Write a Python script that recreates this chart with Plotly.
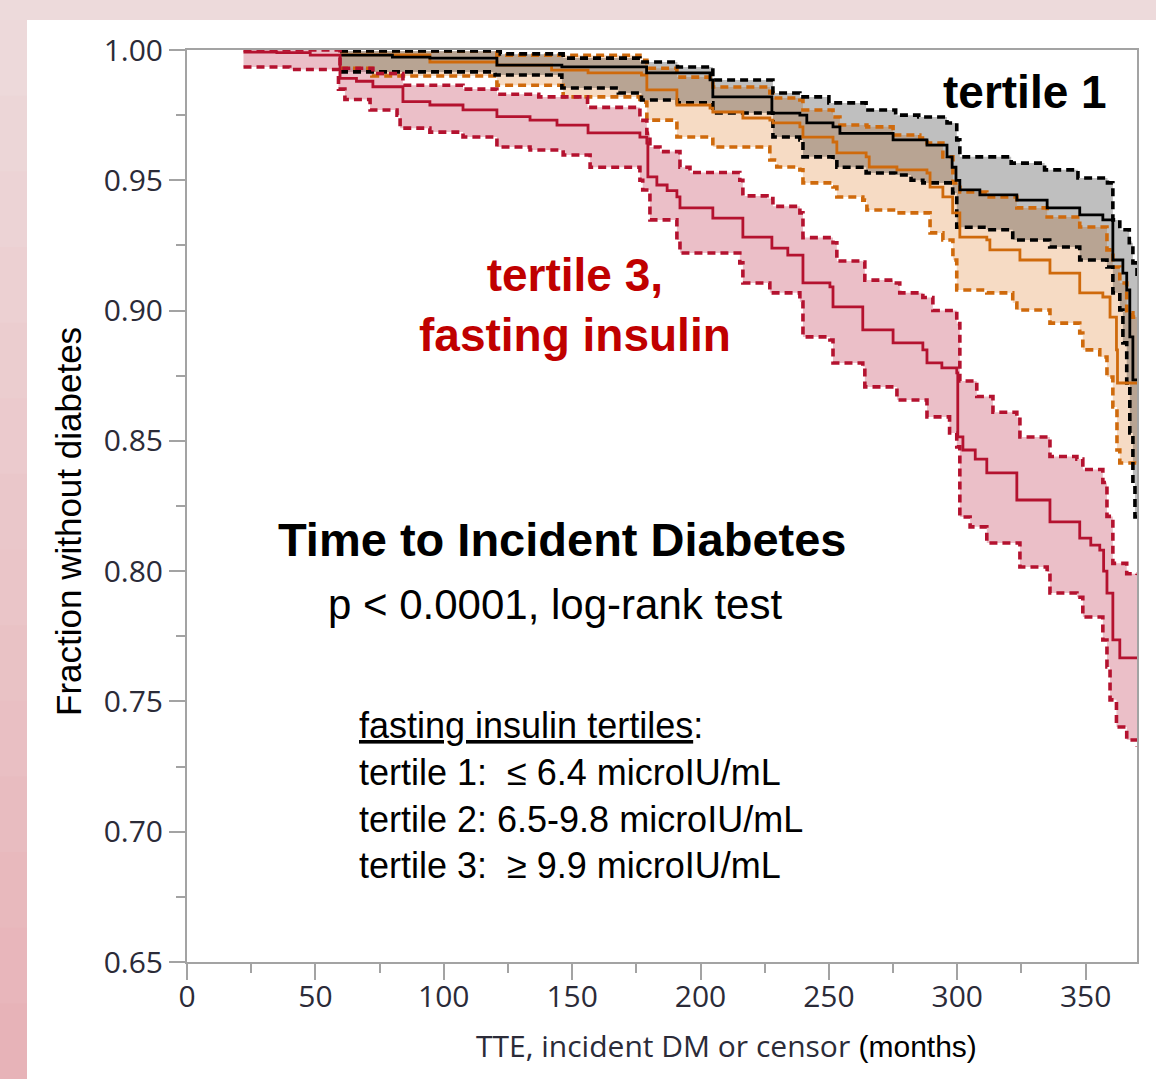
import plotly.graph_objects as go

# ---------------- data ----------------
# tertile 1 (black)
t1_t = [59.6, 80, 94.6, 120.7, 146, 179, 203.7, 204.8, 227.8, 238.7, 241.4, 251.6, 254.3, 275, 288.2, 296, 298, 299.5,
        301, 308.8, 323.2, 335, 347.7, 356.7, 360.6, 364.5, 366, 367.2, 368.4, 370]
t1_s = [0.998, 0.9973, 0.9969, 0.9942, 0.9935, 0.9912, 0.9885, 0.982, 0.9758, 0.975, 0.972, 0.9705, 0.968, 0.9655, 0.9635,
        0.959, 0.955, 0.950, 0.9463, 0.9444, 0.9424, 0.9394, 0.9367, 0.9348, 0.9194, 0.9144, 0.9079, 0.8899, 0.8734, 0.8734]
t1u_t = [59.6, 122, 146.5, 176.4, 191, 204.8, 228.2, 238.7, 250, 264.5, 276, 285, 296, 299.8, 301, 321, 334, 347, 358.5,
         360.6, 363.3, 367, 368.4, 370]
t1u_s = [0.9996, 0.9985, 0.9969, 0.9954, 0.9935, 0.9885, 0.9835, 0.982, 0.9797, 0.977, 0.975, 0.9743, 0.972, 0.9655, 0.959,
         0.9566, 0.954, 0.9509, 0.949, 0.9348, 0.931, 0.926, 0.9183, 0.9129]
t1l_t = [59.6, 120, 146, 168, 177, 191, 204.8, 228.2, 238.7, 239.9, 251.6, 253.1, 264.5, 276, 282, 286.6, 298.2, 299.8,
         311.5, 321.6, 336, 347.7, 358.3, 360.6, 363.3, 364.5, 366, 367.2, 368.4, 369.2, 370]
t1l_s = [0.9916, 0.9904, 0.9854, 0.9835, 0.9808, 0.9797, 0.9758, 0.9666, 0.9655, 0.959, 0.9578, 0.955, 0.9528, 0.952, 0.950,
         0.949, 0.9451, 0.932, 0.931, 0.9271, 0.9244, 0.9194, 0.9167, 0.9068, 0.9002, 0.8876, 0.8722, 0.853, 0.8338,
         0.8208, 0.8208]

# tertile 2 (orange)
t2_t = [59.6, 94.6, 120.7, 142, 156.2, 177, 179.1, 190.8, 203.7, 204.8, 216.5, 227, 228.2, 238.7, 239.9, 251.6, 253.1,
        264.5, 265.7, 276.5, 288.2, 289.4, 294.4, 298.2, 301, 311.5, 312.7, 324.4, 336.1, 347.7, 356.7, 359.5, 362, 362.4,
        370]
t2_s = [0.9981, 0.9954, 0.9942, 0.9923, 0.9912, 0.9904, 0.9847, 0.9789, 0.9777, 0.9762, 0.9739, 0.9731, 0.972, 0.9705,
        0.9666, 0.9647, 0.9605, 0.959, 0.9551, 0.954, 0.9528, 0.9474, 0.9436, 0.9375, 0.9282, 0.9271, 0.9233, 0.9194,
        0.9144, 0.9068, 0.9052, 0.8975, 0.8849, 0.8722, 0.8722]
t2u_t = [59.6, 120.7, 176.4, 179.1, 190.8, 203.7, 204.8, 227, 228.2, 238.7, 239.9, 251.6, 254.3, 264.8, 275, 285.4, 288.2,
         294.4, 298.3, 301, 311.5, 323.2, 335, 347.7, 358.3, 360.6, 363.3, 366, 368.4, 370]
t2u_s = [0.9995, 0.998, 0.996, 0.993, 0.9896, 0.9885, 0.9858, 0.9835, 0.9816, 0.9808, 0.977, 0.9743, 0.9712, 0.9705,
         0.9674, 0.9662, 0.9643, 0.959, 0.949, 0.9455, 0.9436, 0.9394, 0.9359, 0.9321, 0.9233, 0.9167, 0.9106, 0.8991,
         0.8975, 0.8975]
t2l_t = [59.6, 72, 120.7, 146.5, 176.4, 179.1, 190.8, 204.8, 227, 229.7, 238.7, 239.9, 251.6, 253.1, 263.2, 264.8, 276.5,
         289.4, 294.4, 298.3, 299.8, 311.5, 321.6, 323.2, 336.1, 347.7, 348.9, 355.5, 358.3, 360.6, 362.2, 363.3, 370]
t2l_s = [0.993, 0.990, 0.9865, 0.982, 0.980, 0.9731, 0.9666, 0.9628, 0.9578, 0.9551, 0.954, 0.949, 0.9474, 0.9436,
         0.9424, 0.9386, 0.9375, 0.9298, 0.9271, 0.9194, 0.9079, 0.9068, 0.9029, 0.9002, 0.8952, 0.8914, 0.8849, 0.8822,
         0.8745, 0.863, 0.8465, 0.8415, 0.8415]

# tertile 3 (red)
t3_t = [22, 35, 48, 59.6, 66, 72.4, 84.1, 94.6, 107.5, 120.7, 133.6, 144.1, 156.2, 176.4, 179.1, 179.5, 183, 187, 190.8,
        192, 204.8, 216.5, 227.8, 234, 239.9, 250.4, 251.6, 263.2, 275, 286.6, 288.2, 294, 299.8, 300.2, 302.2, 307,
        311.5, 323.2, 336.1, 347.7, 352, 355.5, 357, 358.3, 360.6, 363.3, 370]
t3_s = [0.9992, 0.999, 0.998, 0.9891, 0.988, 0.9859, 0.9802, 0.9789, 0.977, 0.9744, 0.9731, 0.9712, 0.9682, 0.9666,
        0.9643, 0.9513, 0.9482, 0.946, 0.9436, 0.9394, 0.9355, 0.9282, 0.924, 0.9213, 0.9106, 0.9091, 0.9014, 0.8926,
        0.8876, 0.8849, 0.8799, 0.878, 0.8761, 0.8515, 0.8465, 0.843, 0.8377, 0.8273, 0.8189, 0.8127, 0.810, 0.8081,
        0.800, 0.7916, 0.7736, 0.7667, 0.7667]
t3u_t = [22, 59.6, 72.4, 84.1, 107.5, 120.7, 137, 156, 176.4, 179.1, 180.3, 184.2, 192, 195.9, 215.3, 216.5, 225.9, 228.2,
         238.7, 239.9, 251.6, 253.1, 263.2, 264, 275, 277.6, 286.6, 290.5, 299.8, 301, 307.6, 313.9, 323.2, 324.4, 336.1,
         346.6, 348.9, 356.7, 358.3, 360.6, 366, 370]
t3u_s = [1.0, 0.993, 0.991, 0.9865, 0.985, 0.983, 0.982, 0.978, 0.973, 0.968, 0.9628, 0.961, 0.955, 0.953, 0.950, 0.944,
         0.943, 0.940, 0.9375, 0.928, 0.926, 0.919, 0.9186, 0.9117, 0.9106, 0.9068, 0.905, 0.900, 0.895, 0.873, 0.867,
         0.861, 0.859, 0.8515, 0.844, 0.843, 0.839, 0.834, 0.821, 0.803, 0.799, 0.7985]
t3l_t = [22, 40, 59, 61.5, 71.3, 81.8, 83, 94.6, 107.5, 120.7, 133.6, 146.5, 157, 176.4, 177.5, 180.3, 190.8, 192, 215.3,
         216.5, 227, 238.7, 239.9, 250.4, 251.6, 263.2, 264, 276.5, 288.2, 297, 299.8, 301, 305, 311.5, 324.4, 335, 336.1,
         346.6, 348.9, 356.7, 358.3, 359.5, 362, 366, 370]
t3l_s = [0.9935, 0.9925, 0.985, 0.981, 0.977, 0.975, 0.970, 0.9685, 0.9666, 0.9628, 0.9616, 0.9597, 0.955, 0.950, 0.9463,
         0.9348, 0.9271, 0.9221, 0.9183, 0.9106, 0.9068, 0.9033, 0.8899, 0.8887, 0.8799, 0.8784, 0.8707, 0.8657, 0.8592,
         0.853, 0.8477, 0.8208, 0.817, 0.8108, 0.8016, 0.7997, 0.7916, 0.790, 0.7824, 0.7736, 0.7632, 0.7506, 0.7402,
         0.7352, 0.7325]

x_ticks = [0, 50, 100, 150, 200, 250, 300, 350]
y_ticks = [0.65, 0.70, 0.75, 0.80, 0.85, 0.90, 0.95, 1.00]

# ---------------- figure ----------------
W, H = 1156, 1079
ML, MR, MT, MB = 187, 19, 50, 117
PW, PH = W - ML - MR, H - MT - MB


def px_x(px):
    return (px - ML) / PW


def px_y(py):
    return (H - MB - py) / PH


groups = [
    dict(name="tertile 2", t=t2_t, s=t2_s, ut=t2u_t, us=t2u_s, lt=t2l_t, ls=t2l_s,
         line="#cf6a0c", fill="rgba(220,110,20,0.25)"),
    dict(name="tertile 1", t=t1_t, s=t1_s, ut=t1u_t, us=t1u_s, lt=t1l_t, ls=t1l_s,
         line="#000000", fill="rgba(0,0,0,0.25)"),
    dict(name="tertile 3", t=t3_t, s=t3_s, ut=t3u_t, us=t3u_s, lt=t3l_t, ls=t3l_s,
         line="#b4122f", fill="rgba(180,20,50,0.27)"),
]

fig = go.Figure()

# bands
for g in groups:
    fig.add_trace(go.Scatter(x=g["ut"], y=g["us"], mode="lines", line=dict(width=0, shape="hv"),
                             hoverinfo="skip", showlegend=False))
    fig.add_trace(go.Scatter(x=g["lt"], y=g["ls"], mode="lines", line=dict(width=0, shape="hv"),
                             fill="tonexty", fillcolor=g["fill"], hoverinfo="skip", showlegend=False))
# dashed CI lines
for g in groups:
    for xx, yy in ((g["ut"], g["us"]), (g["lt"], g["ls"])):
        fig.add_trace(go.Scatter(x=xx, y=yy, mode="lines",
                                 line=dict(color=g["line"], width=3.6, shape="hv", dash="8px,5px"),
                                 hoverinfo="skip", showlegend=False))
# survival curves
for g in groups:
    fig.add_trace(go.Scatter(x=g["t"], y=g["s"], mode="lines", name=g["name"],
                             line=dict(color=g["line"], width=2.8, shape="hv"),
                             hoverinfo="skip", showlegend=False))

# background: pink frame with white panel
shapes = []
n_b = 14
c_top = (237, 218, 219)
c_bot = (231, 178, 183)
shapes.append(dict(type="rect", xref="paper", yref="paper", x0=px_x(-5), x1=px_x(W + 5), y0=px_y(-5), y1=px_y(21),
                   fillcolor="rgb(237,218,219)", line=dict(width=0), layer="below"))
for i in range(n_b):
    f = (i + 0.5) / n_b
    col = tuple(int(round(c_top[k] + (c_bot[k] - c_top[k]) * f)) for k in range(3))
    y0p = 20 + (H - 20) * i / n_b
    y1p = 20 + (H - 20) * (i + 1) / n_b
    shapes.append(dict(type="rect", xref="paper", yref="paper", x0=px_x(-5), x1=px_x(27),
                       y0=px_y(y1p + 1), y1=px_y(y0p),
                       fillcolor="rgb(%d,%d,%d)" % col, line=dict(width=0), layer="below"))
shapes.append(dict(type="rect", xref="paper", yref="paper", x0=px_x(27), x1=px_x(W + 5), y0=px_y(H + 5), y1=px_y(20),
                   fillcolor="white", line=dict(width=0), layer="below"))

tick_font = dict(family="Open Sans", size=30, color="#2b2b38")
axis_col = "#a3a3a3"

fig.update_layout(
    width=W, height=H,
    margin=dict(l=ML, r=MR, t=MT, b=MB, pad=0),
    paper_bgcolor="rgb(237,218,219)",
    plot_bgcolor="white",
    shapes=shapes,
    showlegend=False,
    xaxis=dict(range=[0, 370], tickvals=x_ticks, ticks="outside", ticklen=16, tickwidth=2, tickcolor=axis_col,
               showline=True, linecolor=axis_col, linewidth=2, mirror=True, showgrid=False, zeroline=False,
               tickfont=tick_font, ticklabelstandoff=-9,
               minor=dict(dtick=25, tick0=0, ticks="outside", ticklen=9, tickwidth=2, tickcolor=axis_col,
                          showgrid=False)),
    yaxis=dict(range=[0.65, 1.0], tickvals=y_ticks, tickformat=".2f", ticks="outside", ticklen=16, tickwidth=2,
               tickcolor=axis_col, showline=True, linecolor=axis_col, linewidth=2, mirror=True, showgrid=False,
               zeroline=False, tickfont=tick_font, ticklabelstandoff=0,
               minor=dict(dtick=0.025, tick0=0.65, ticks="outside", ticklen=9, tickwidth=2, tickcolor=axis_col,
                          showgrid=False)),
)

arial = "Liberation Sans, Arial, sans-serif"
ann = [
    dict(text="<b>tertile 1</b>", x=px_x(1025), y=px_y(92), font=dict(family=arial, size=46, color="black"),
         xanchor="center", yanchor="middle"),
    dict(text="<b>tertile 3,<br>fasting insulin</b>", x=px_x(575), y=px_y(305),
         font=dict(family=arial, size=46, color="#c00000"), xanchor="center", yanchor="middle"),
    dict(text="<b>Time to Incident Diabetes</b>", x=px_x(562), y=px_y(539),
         font=dict(family=arial, size=47, color="black"), xanchor="center", yanchor="middle"),
    dict(text="p < 0.0001, log-rank test", x=px_x(555), y=px_y(604),
         font=dict(family=arial, size=42, color="black"), xanchor="center", yanchor="middle"),
    dict(text="<u>fasting insulin tertiles</u>:<br>tertile 1:  ≤ 6.4 microIU/mL<br>tertile 2: 6.5-9.8 microIU/mL"
              "<br>tertile 3:  ≥ 9.9 microIU/mL",
         x=px_x(357), y=px_y(795), font=dict(family=arial, size=36, color="black"),
         xanchor="left", yanchor="middle", align="left"),
    dict(text="Fraction without diabetes", x=px_x(68), y=px_y(522), textangle=-90,
         font=dict(family=arial, size=35, color="black"), xanchor="center", yanchor="middle"),
    dict(text='<span style="font-family:Open Sans;color:#2b2b38">TTE, incident DM or censor</span> (months)',
         x=px_x(726), y=px_y(1045), font=dict(family=arial, size=30, color="black"),
         xanchor="center", yanchor="middle"),
]
for a in ann:
    a.update(xref="paper", yref="paper", showarrow=False)
fig.update_layout(annotations=ann)

fig.write_html("out.html", config={"displayModeBar": False},
               post_script="document.body.style.margin='0';document.body.style.overflow='hidden';"
                           "document.body.style.background='rgb(237,218,219)';")
